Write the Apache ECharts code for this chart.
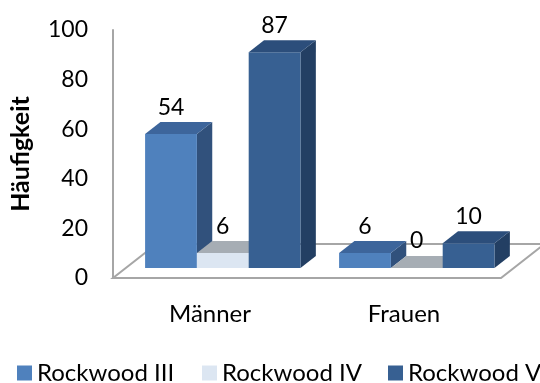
<!DOCTYPE html>
<html>
<head>
<meta charset="utf-8">
<script src="https://cdn.jsdelivr.net/npm/echarts@6/dist/echarts.min.js"></script>
<style>
  html, body { margin: 0; padding: 0; background: #fff; }
  #chart { width: 540px; height: 383px; }
</style>
</head>
<body>
<div id="chart"></div>
<script>
// Categories and values
const categories = ['Männer', 'Frauen'];
const seriesNames = ['Rockwood III', 'Rockwood IV', 'Rockwood V'];
const rockwoodIII = [54, 6];
const rockwoodIV = [6, 0];
const rockwoodV = [87, 10];
const yMin = 0, yMax = 100, yStep = 20;

const FONT = 'Lato';

// Face colours for each bar series: front, top, side
const faceColors = [
  { front: '#4F81BD', top: '#3D659B', side: '#31517C' },
  { front: '#DCE6F2', top: '#A6ADB4', side: '#B8C2CD' },
  { front: '#376092', top: '#2C4E7B', side: '#233F63' }
];

// Oblique depth of the floor (full depth) and of the bars inside it
const FLOOR_DX = 43.5, FLOOR_DY = -34;
const BAR_FRONT = 10 / 34;   // fraction of floor depth where bar fronts sit
const BAR_DEPTH = 12 / 34;   // fraction of floor depth the bars occupy
const BAR_FRACTION = 0.267;  // bar width as a fraction of the category band

function floorRender(params, api) {
  const cs = params.coordSys;
  const x0 = cs.x, x1 = cs.x + cs.width, y0 = cs.y + cs.height;
  const pts = [[x0, y0], [x1, y0], [x1 + FLOOR_DX, y0 + FLOOR_DY], [x0 + FLOOR_DX, y0 + FLOOR_DY]];
  return {
    type: 'polygon',
    shape: { points: pts },
    style: { fill: '#ffffff', stroke: '#A6A6A6', lineWidth: 2 },
    z2: 0
  };
}

function makeBarRender(si) {
  return function (params, api) {
    const cat = api.value(0);
    const val = api.value(1);
    const base = api.coord([cat, 0]);
    const top = api.coord([cat, val]);
    const band = api.size([1, 0])[0];
    const bw = band * BAR_FRACTION;
    const fx = FLOOR_DX * BAR_FRONT, fy = FLOOR_DY * BAR_FRONT;
    const bx = FLOOR_DX * BAR_DEPTH, by = FLOOR_DY * BAR_DEPTH;
    const left = base[0] + fx - 1.5 * bw + si * bw;
    const right = left + bw;
    const yb = base[1] + fy;
    const yt = top[1] + fy;
    const c = faceColors[si];
    const children = [];
    children.push({
      type: 'polygon', z2: 1,
      shape: { points: [[right, yt], [right + bx, yt + by], [right + bx, yb + by], [right, yb]] },
      style: { fill: c.side }
    });
    if (yb - yt > 0) {
      children.push({
        type: 'rect', z2: 1,
        shape: { x: left, y: yt, width: bw, height: yb - yt },
        style: { fill: c.front }
      });
    }
    children.push({
      type: 'polygon', z2: 1,
      shape: { points: [[left, yt], [right, yt], [right + bx, yt + by], [left + bx, yt + by]] },
      style: { fill: c.top }
    });
    children.push({
      type: 'text', z2: 50,
      x: (left + right) / 2, y: yt - 27,
      style: {
        text: String(val), fill: '#000', font: '23px ' + FONT,
        align: 'center', verticalAlign: 'middle'
      }
    });
    return { type: 'group', children: children };
  };
}

const seriesValues = [rockwoodIII, rockwoodIV, rockwoodV];

const series = [{
  type: 'custom',
  name: 'floor',
  renderItem: floorRender,
  data: [[0, 0]],
  silent: true,
  z: 1
}];
seriesValues.forEach(function (vals, si) {
  series.push({
    type: 'custom',
    name: seriesNames[si],
    renderItem: makeBarRender(si),
    data: vals.map(function (v, i) { return [i, v]; }),
    itemStyle: { color: faceColors[si].front },
    encode: { x: 0, y: 1 },
    z: 2
  });
});

const legendLefts = [12, 197, 383];
const legends = seriesNames.map(function (n, i) {
  return {
    data: [n],
    left: legendLefts[i],
    top: 356,
    icon: 'rect',
    itemWidth: 15,
    itemHeight: 15,
    textStyle: { fontFamily: FONT, fontSize: 24, color: '#000' },
    selectedMode: false
  };
});

const chart = echarts.init(document.getElementById('chart'), null, { renderer: 'canvas' });
chart.setOption({
  animation: false,
  backgroundColor: '#ffffff',
  grid: { left: 111, right: 39, top: 30, bottom: 105, containLabel: false },
  legend: legends,
  xAxis: {
    type: 'category',
    data: categories,
    axisLine: { show: false },
    axisTick: { show: false },
    axisLabel: { fontFamily: FONT, fontSize: 24, color: '#000', margin: 24 }
  },
  yAxis: {
    type: 'value',
    min: yMin, max: yMax, interval: yStep,
    name: 'Häufigkeit',
    nameLocation: 'middle',
    nameRotate: 90,
    nameGap: 80,
    nameTextStyle: { fontFamily: FONT, fontSize: 25, fontWeight: 'bold', color: '#000' },
    axisLine: { show: true, lineStyle: { color: '#A6A6A6', width: 2 } },
    axisTick: { show: false },
    splitLine: { show: false },
    axisLabel: { fontFamily: FONT, fontSize: 23, color: '#000', margin: 25 }
  },
  series: series
});
</script>
</body>
</html>
